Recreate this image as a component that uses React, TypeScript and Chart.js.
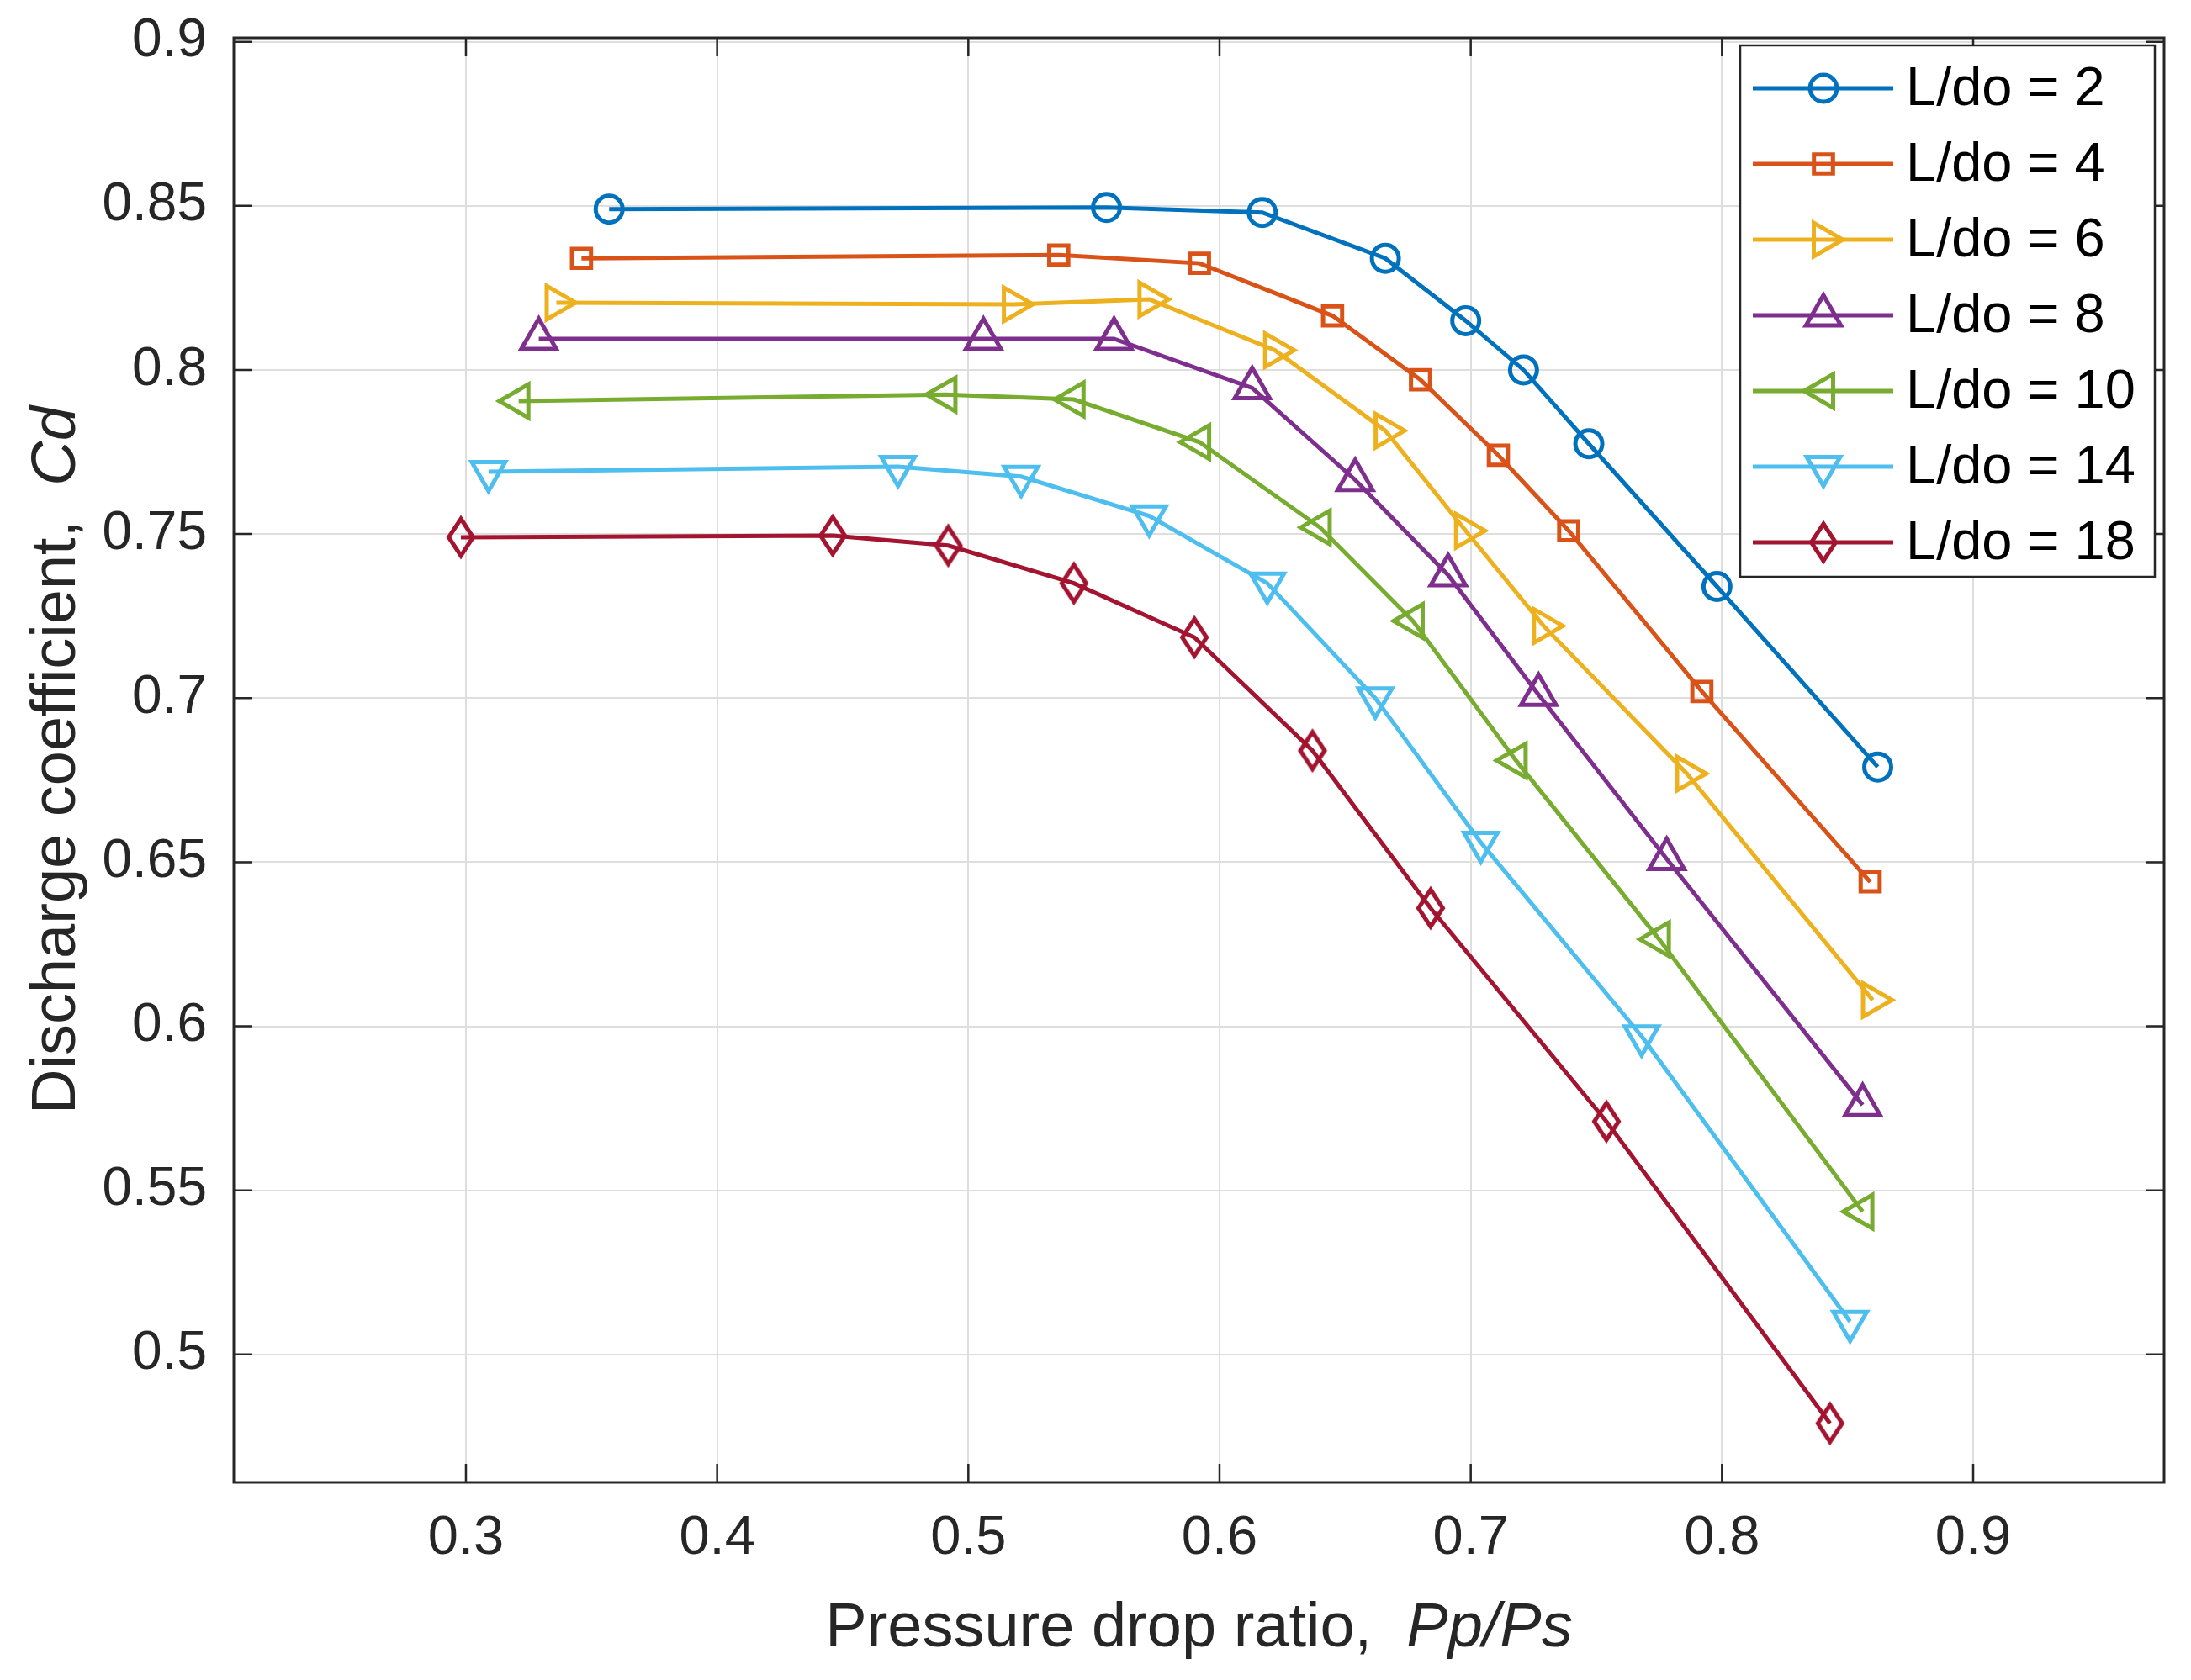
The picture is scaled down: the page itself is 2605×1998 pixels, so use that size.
import { useEffect, useRef } from "react";
import { Chart, registerables, Plugin } from "chart.js";
import { drawPoint } from "chart.js/helpers";

Chart.register(...registerables);

const seriesLabels = ["L/do = 2", "L/do = 4", "L/do = 6", "L/do = 8", "L/do = 10", "L/do = 14", "L/do = 18"];

// pressure drop ratio (x) and discharge coefficient (y) per L/do
const pp2 = [0.357, 0.555, 0.617, 0.666, 0.698, 0.721, 0.747, 0.798, 0.862];
const cd2 = [0.849, 0.8495, 0.848, 0.834, 0.815, 0.8, 0.7775, 0.734, 0.679];
const pp4 = [0.346, 0.536, 0.592, 0.645, 0.68, 0.711, 0.739, 0.792, 0.859];
const cd4 = [0.834, 0.835, 0.8325, 0.8165, 0.797, 0.774, 0.751, 0.702, 0.644];
const pp6 = [0.336, 0.518, 0.572, 0.622, 0.666, 0.698, 0.729, 0.786, 0.86];
const cd6 = [0.8205, 0.82, 0.8215, 0.806, 0.7815, 0.751, 0.722, 0.677, 0.608];
const pp8 = [0.329, 0.506, 0.558, 0.613, 0.654, 0.691, 0.727, 0.778, 0.856];
const cd8 = [0.8095, 0.8095, 0.8095, 0.7945, 0.7665, 0.7375, 0.701, 0.651, 0.576];
const pp10 = [0.321, 0.491, 0.542, 0.592, 0.64, 0.677, 0.718, 0.775, 0.856];
const cd10 = [0.7905, 0.7925, 0.791, 0.778, 0.752, 0.7235, 0.681, 0.6265, 0.5435];
const pp14 = [0.309, 0.472, 0.521, 0.572, 0.619, 0.662, 0.704, 0.768, 0.851];
const cd14 = [0.769, 0.7705, 0.7675, 0.7555, 0.735, 0.7, 0.656, 0.597, 0.51];
const pp18 = [0.298, 0.446, 0.492, 0.542, 0.59, 0.637, 0.684, 0.754, 0.843];
const cd18 = [0.749, 0.7495, 0.7465, 0.735, 0.7185, 0.684, 0.636, 0.571, 0.479];

const xTicks = [0.3, 0.4, 0.5, 0.6, 0.7, 0.8, 0.9];
const yTicks = [0.5, 0.55, 0.6, 0.65, 0.7, 0.75, 0.8, 0.85, 0.9];

const colors = ["#0072BD", "#D95319", "#EDB120", "#7E2F8E", "#77AC30", "#4DBEEE", "#A2142F"];

const FONT = "'Liberation Sans', Arial, Helvetica, sans-serif";
const AXIS = "#262626";

function makeDiamond(color: string) {
  const c = document.createElement("canvas");
  c.width = 42;
  c.height = 58;
  const g = c.getContext("2d")!;
  g.strokeStyle = color;
  g.lineWidth = 5;
  g.lineJoin = "miter";
  g.beginPath();
  g.moveTo(21, 7);
  g.lineTo(35.5, 29);
  g.lineTo(21, 51);
  g.lineTo(6.5, 29);
  g.closePath();
  g.stroke();
  return c;
}

const framePlugin: Plugin = {
  id: "frame",
  afterDatasetsDraw(chart) {
    const { ctx, chartArea } = chart;
    const { left, right, top, bottom } = chartArea;
    const x = chart.scales.x;
    const y = chart.scales.y;
    const tl = 22;
    ctx.save();
    ctx.strokeStyle = AXIS;
    ctx.lineWidth = 2.5;
    ctx.beginPath();
    xTicks.forEach((v) => {
      const px = x.getPixelForValue(v);
      ctx.moveTo(px, bottom);
      ctx.lineTo(px, bottom - tl);
      ctx.moveTo(px, top);
      ctx.lineTo(px, top + tl);
    });
    yTicks.forEach((v) => {
      const py = y.getPixelForValue(v);
      ctx.moveTo(left, py);
      ctx.lineTo(left + tl, py);
      ctx.moveTo(right, py);
      ctx.lineTo(right - tl, py);
    });
    ctx.stroke();
    ctx.lineWidth = 3;
    ctx.strokeRect(left, top, right - left, bottom - top);
    ctx.restore();
  },
  afterDraw(chart) {
    const { ctx, chartArea } = chart;
    const { left, right, top, bottom } = chartArea;
    ctx.save();

    // axis titles with italic symbols
    ctx.fillStyle = AXIS;
    ctx.textBaseline = "alphabetic";
    const normal = `74px ${FONT}`;
    const italic = `italic 74px ${FONT}`;
    const drawMixed = (a: string, b: string, cx: number, cy: number) => {
      ctx.font = normal;
      const wa = ctx.measureText(a).width;
      ctx.font = italic;
      const wb = ctx.measureText(b).width;
      const x0 = cx - (wa + wb) / 2;
      ctx.font = normal;
      ctx.textAlign = "left";
      ctx.fillText(a, x0, cy);
      ctx.font = italic;
      ctx.fillText(b, x0 + wa, cy);
    };
    drawMixed("Pressure drop ratio,  ", "Pp/Ps", (left + right) / 2, 1958);
    ctx.save();
    ctx.translate(89, (top + bottom) / 2);
    ctx.rotate(-Math.PI / 2);
    drawMixed("Discharge coefficient,  ", "Cd", 0, 0);
    ctx.restore();

    // legend
    const bx = 2069, by = 54, bw = 493, bh = 632;
    ctx.fillStyle = "#ffffff";
    ctx.fillRect(bx, by, bw, bh);
    ctx.strokeStyle = AXIS;
    ctx.lineWidth = 2.5;
    ctx.strokeRect(bx, by, bw, bh);
    chart.data.datasets.forEach((ds: any, i) => {
      const ry = 105 + i * 90;
      ctx.strokeStyle = ds.borderColor;
      ctx.lineWidth = ds.borderWidth;
      ctx.beginPath();
      ctx.moveTo(2084, ry);
      ctx.lineTo(2251, ry);
      ctx.stroke();
      ctx.fillStyle = "rgba(0,0,0,0)";
      ctx.lineWidth = ds.pointBorderWidth;
      drawPoint(ctx, {
        pointStyle: ds.pointStyle,
        rotation: ds.pointRotation || 0,
        radius: ds.pointRadius,
        borderWidth: ds.pointBorderWidth,
      }, 2168, ry);
      ctx.fillStyle = "#000000";
      ctx.font = `65px ${FONT}`;
      ctx.textAlign = "left";
      ctx.textBaseline = "middle";
      ctx.fillText(seriesLabels[i], 2266, ry + 2);
    });
    ctx.restore();
  },
};

export default function App() {
  const canvasRef = useRef<HTMLCanvasElement | null>(null);
  const chartRef = useRef<Chart | null>(null);

  useEffect(() => {
    const canvas = canvasRef.current;
    if (!canvas) return;
    const ctx = canvas.getContext("2d");
    if (!ctx) return;
    if (chartRef.current) chartRef.current.destroy();

    const xs = [pp2, pp4, pp6, pp8, pp10, pp14, pp18];
    const ys = [cd2, cd4, cd6, cd8, cd10, cd14, cd18];
    const styles: any[] = ["circle", "rect", "triangle", "triangle", "triangle", "triangle", makeDiamond(colors[6])];
    const rotations = [0, 0, 90, 0, 270, 180, 0];
    const radii = [16, 16, 23, 24, 23, 23, 20];

    const datasets = seriesLabels.map((label, i) => ({
      label,
      data: xs[i].map((v, j) => ({ x: v, y: ys[i][j] })),
      showLine: true,
      borderColor: colors[i],
      backgroundColor: "rgba(0,0,0,0)",
      borderWidth: 5,
      pointStyle: styles[i],
      pointRotation: rotations[i],
      pointRadius: radii[i],
      pointHoverRadius: radii[i],
      pointBorderColor: colors[i],
      pointBackgroundColor: "rgba(0,0,0,0)",
      pointBorderWidth: 5,
      tension: 0,
    }));

    chartRef.current = new Chart(ctx, {
      type: "scatter",
      data: { datasets },
      options: {
        animation: false,
        responsive: false,
        devicePixelRatio: 1,
        layout: { padding: { top: 45, right: 32, left: 0, bottom: 0 } },
        plugins: { legend: { display: false }, tooltip: { enabled: false } },
        scales: {
          x: {
            type: "linear",
            position: "bottom",
            min: 0.2076,
            max: 0.976,
            afterBuildTicks: (a: any) => {
              a.ticks = xTicks.map((v) => ({ value: v }));
            },
            afterFit: (a: any) => {
              a.height = 1998 - 1763;
              a.paddingLeft = 0;
              a.paddingRight = 0;
            },
            grid: { color: "#dedede", lineWidth: 2, drawTicks: false },
            border: { display: false },
            ticks: {
              padding: 28,
              color: AXIS,
              font: { family: FONT, size: 65 },
              callback: (v: any) => String(Number(Number(v).toFixed(2))),
            },
          },
          y: {
            type: "linear",
            min: 0.461,
            max: 0.9012,
            afterBuildTicks: (a: any) => {
              a.ticks = yTicks.map((v) => ({ value: v }));
            },
            afterFit: (a: any) => {
              a.width = 278;
              a.paddingTop = 0;
              a.paddingBottom = 0;
            },
            grid: { color: "#dedede", lineWidth: 2, drawTicks: false },
            border: { display: false },
            ticks: {
              padding: 32,
              color: AXIS,
              font: { family: FONT, size: 64 },
              callback: (v: any) => String(Number(Number(v).toFixed(2))),
            },
          },
        },
      },
      plugins: [framePlugin],
    });

    return () => {
      if (chartRef.current) {
        chartRef.current.destroy();
        chartRef.current = null;
      }
    };
  }, []);

  return (
    <div style={{ position: "fixed", left: 0, top: 0, width: 2605, height: 1998, background: "#ffffff" }}>
      <canvas ref={canvasRef} width={2605} height={1998} style={{ width: 2605, height: 1998 }} />
    </div>
  );
}
